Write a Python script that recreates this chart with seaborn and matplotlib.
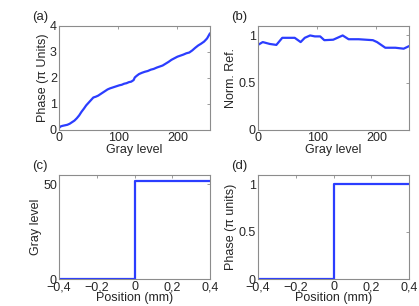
import numpy as np
import pandas as pd
import matplotlib
matplotlib.use("Agg")
import matplotlib.pyplot as plt
import matplotlib.ticker as mticker
import seaborn as sns

# (a) phase response vs gray level
gray_a = [0, 3, 6, 10, 14, 18, 22, 26, 30, 34, 38, 42, 46, 50, 54, 58, 62, 66, 70,
          74, 78, 82, 86, 90, 94, 98, 102, 106, 110, 114, 118, 122, 126, 128, 131,
          135, 140, 145, 150, 155, 160, 165, 170, 175, 180, 185, 190, 195, 200,
          205, 210, 215, 220, 225, 230, 235, 240, 245, 250, 255]
phase_a = [0.08, 0.14, 0.16, 0.18, 0.20, 0.24, 0.30, 0.36, 0.45, 0.56, 0.70, 0.82,
           0.95, 1.05, 1.15, 1.25, 1.28, 1.32, 1.38, 1.44, 1.50, 1.56, 1.60, 1.63,
           1.66, 1.69, 1.72, 1.74, 1.78, 1.80, 1.84, 1.86, 1.92, 2.02, 2.08, 2.15,
           2.20, 2.24, 2.27, 2.32, 2.35, 2.40, 2.44, 2.48, 2.55, 2.62, 2.70, 2.76,
           2.82, 2.86, 2.90, 2.95, 2.98, 3.06, 3.16, 3.25, 3.32, 3.40, 3.52, 3.72]

# (b) normalized reflectance vs gray level
gray_b = [0, 8, 20, 31, 41, 50, 62, 72, 79, 88, 96, 105, 112, 127, 143, 153,
          170, 194, 201, 215, 232, 246, 256]
refl_b = [0.90, 0.93, 0.91, 0.90, 0.975, 0.975, 0.975, 0.93, 0.975, 1.0, 0.99,
          0.99, 0.95, 0.955, 1.0, 0.96, 0.96, 0.95, 0.93, 0.87, 0.87, 0.86, 0.89]

# (c), (d) step profiles vs position
pos = [-0.4, 0.0, 0.0, 0.4]
gray_step = [0, 0, 52, 52]
phase_step = [0, 0, 1, 1]

sns.set_theme(style="white")
plt.rcParams["font.family"] = ["Liberation Sans", "DejaVu Sans"]

blue = "#2b3dff"
edge = "#8c8c8c"
fs = 9

fig = plt.figure(figsize=(4.19, 3.06), dpi=100)
W, H = 419, 306


def make_ax(l, t, r, b):
    return fig.add_axes([l / W, 1 - b / H, (r - l) / W, (b - t) / H])


ax_a = make_ax(59, 26, 210, 130)
ax_b = make_ax(258, 26, 409, 130)
ax_c = make_ax(59, 175, 210, 279)
ax_d = make_ax(258, 175, 409, 279)

sns.lineplot(x=gray_a, y=phase_a, ax=ax_a, color=blue, lw=1.6)
sns.lineplot(x=gray_b, y=refl_b, ax=ax_b, color=blue, lw=1.6)
sns.lineplot(x=pos, y=gray_step, ax=ax_c, color=blue, lw=1.6, sort=False, estimator=None)
sns.lineplot(x=pos, y=phase_step, ax=ax_d, color=blue, lw=1.6, sort=False, estimator=None)

ax_a.set(xlim=(0, 255), ylim=(0, 4), xticks=[0, 100, 200], yticks=[0, 1, 2, 3, 4])
ax_a.set_xlabel("Gray level", labelpad=0, fontsize=fs)
ax_a.set_ylabel("Phase (π Units)", labelpad=1, fontsize=fs)

ax_b.set(xlim=(0, 255), ylim=(0, 1.1), xticks=[0, 100, 200], yticks=[0, 0.5, 1])
ax_b.set_xlabel("Gray level", labelpad=0, fontsize=fs)
ax_b.set_ylabel("Norm. Ref.", labelpad=1, fontsize=fs)
ax_b.yaxis.set_major_formatter(mticker.FuncFormatter(lambda v, p: f"{v:g}"))

comma = mticker.FuncFormatter(lambda v, p: f"{v:g}".replace(".", ",").replace("-", "\u2212"))

ax_c.set(xlim=(-0.4, 0.4), ylim=(0, 55), xticks=[-0.4, -0.2, 0, 0.2, 0.4], yticks=[0, 50])
ax_c.xaxis.set_major_formatter(comma)
ax_c.set_xlabel("Position (mm)", labelpad=-1, fontsize=fs)
ax_c.set_ylabel("Gray level", labelpad=1, fontsize=fs)

ax_d.set(xlim=(-0.4, 0.4), ylim=(0, 1.1), xticks=[-0.4, -0.2, 0, 0.2, 0.4], yticks=[0, 0.5, 1])
ax_d.xaxis.set_major_formatter(comma)
ax_d.yaxis.set_major_formatter(mticker.FuncFormatter(lambda v, p: f"{v:g}"))
ax_d.set_xlabel("Position (mm)", labelpad=-1, fontsize=fs)
ax_d.set_ylabel("Phase (π units)", labelpad=1, fontsize=fs)

for ax, lab in zip([ax_a, ax_b, ax_c, ax_d], ["(a)", "(b)", "(c)", "(d)"]):
    for s in ax.spines.values():
        s.set_color(edge)
        s.set_linewidth(0.8)
    ax.tick_params(direction="in", length=2.5, width=0.6, color=edge,
                   top=True, right=True, labelsize=fs, pad=1.5)
    ax.text(-0.18, 1.09, lab, transform=ax.transAxes, fontsize=9.5,
            ha="left", va="center")

fig.savefig("out.png", dpi=100)
